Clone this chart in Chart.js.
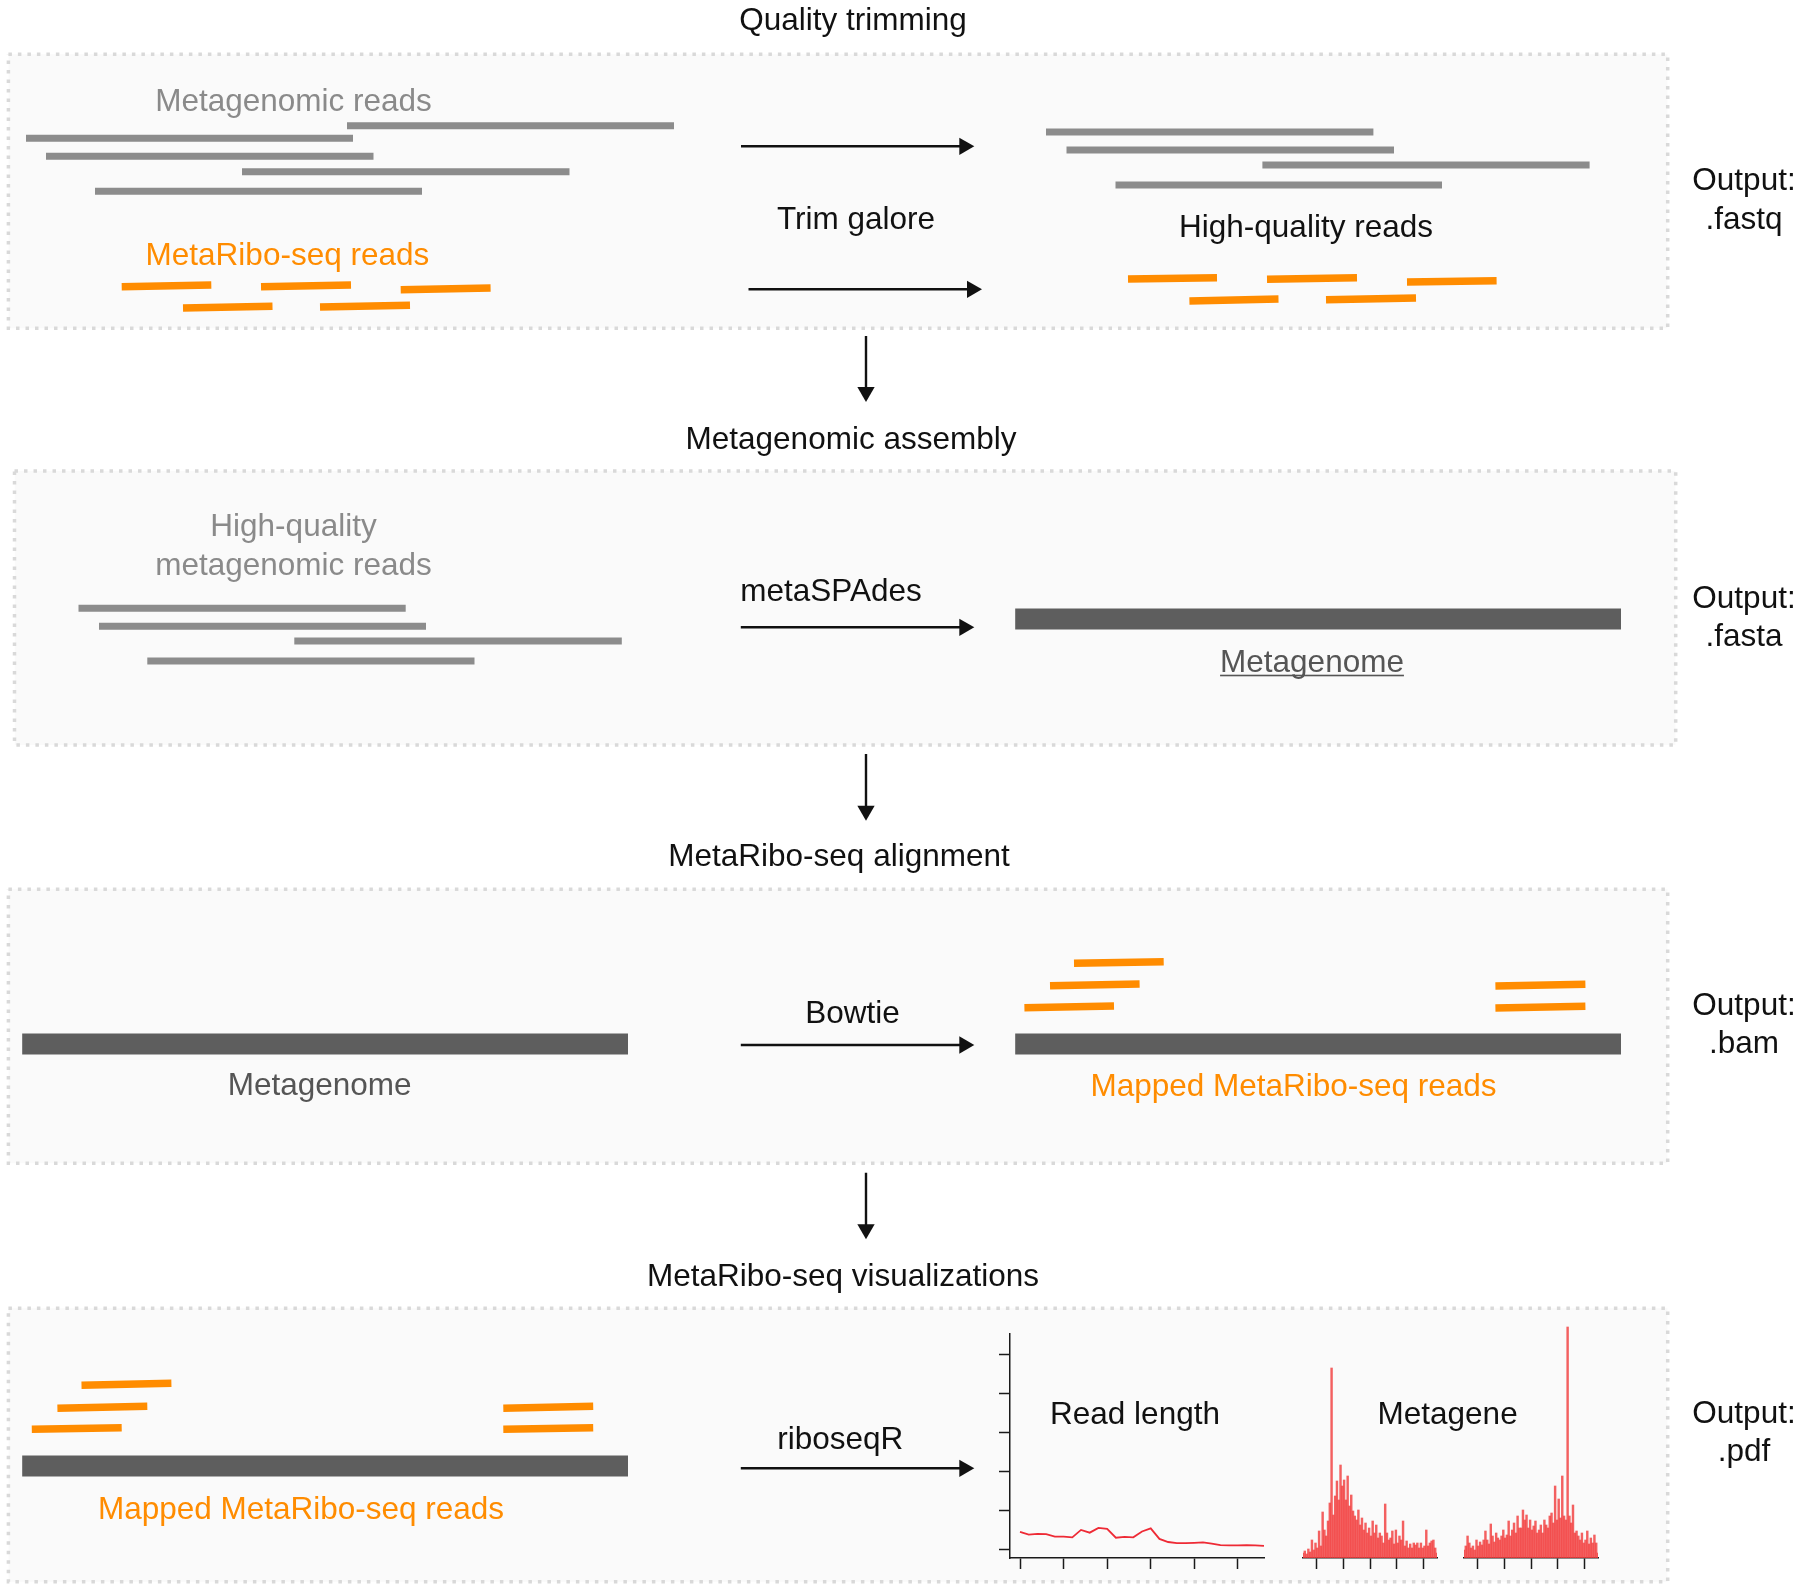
<!DOCTYPE html>
<html>
<head>
<meta charset="utf-8">
<script src="https://cdn.jsdelivr.net/npm/chart.js@4.4.1/dist/chart.umd.min.js"></script>
<style>
html,body{margin:0;padding:0;background:#ffffff;}
#wrap{position:relative;width:1800px;height:1591px;overflow:hidden;background:#ffffff;}
#wrap canvas{position:absolute;display:block;}
</style>
</head>
<body>
<div id="wrap">
  <canvas id="main" width="1800" height="1591" style="left:0px;top:0px;"></canvas>
  <canvas id="readLen" width="270" height="237" style="left:998px;top:1333px;"></canvas>
  <canvas id="meta5" width="140" height="250" style="left:1299.6px;top:1320px;"></canvas>
  <canvas id="meta3" width="140" height="250" style="left:1461px;top:1320px;"></canvas>
</div>
<script>
// ================= DATA =================
// Text content
const stepTitles    = ['Quality trimming', 'Metagenomic assembly', 'MetaRibo-seq alignment', 'MetaRibo-seq visualizations'];
const toolNames     = ['Trim galore', 'metaSPAdes', 'Bowtie', 'riboseqR'];
const outputLabel   = 'Output:';
const outputFormats = ['.fastq', '.fasta', '.bam', '.pdf'];
const readLabels    = ['Metagenomic reads', 'MetaRibo-seq reads', 'High-quality reads', 'High-quality', 'metagenomic reads',
                       'Metagenome', 'Mapped MetaRibo-seq reads', 'Read length', 'Metagene'];

// Reads, in diagram units: [start, end, track]  (orange reads: [start, end, trackStart, trackEnd])
const rawMetagenomicReads     = [[347,674,125.7],[26,353,138.3],[46,373.5,156.3],[242,569.5,171.7],[95,422,191.3]];
const rawRiboReads            = [[121.7,211.3,286.7,285],[261,351,286.7,285],[400.7,490.6,289.7,288],[183,272.5,308,306.3],[320,410,307,305.3]];
const trimmedMetagenomicReads = [[1046,1373.4,132],[1066.5,1394,150],[1262.4,1589.6,165],[1115.5,1442,185]];
const trimmedRiboReads        = [[1128,1217,279,277.7],[1267,1357,279.3,277.7],[1407,1496.6,282,280.7],[1189.4,1278.5,301,299],[1326,1416,299.7,298]];
const hqMetagenomicReads      = [[78.5,405.7,608.3],[99,426,626.3],[294.3,621.8,641],[147.3,474.5,661]];
const metagenomeContigs       = [[1015.2,1621,619],[22.2,628,1044],[1015.2,1621,1044],[22.2,628,1466]];
const mappedRiboReads         = [[1074,1163.7,963.3,961.7],[1050,1139.6,985.7,984],[1024.4,1114,1007.7,1006],
                                 [1495.4,1585.4,986,984.3],[1495.4,1585.4,1008,1006.3],
                                 [81.5,171.4,1385.3,1383.3],[57.4,147.3,1408.3,1406.3],[31.8,121.7,1429.3,1427.7],
                                 [503.3,593.2,1408.3,1406.3],[503.3,593.2,1429.3,1427.7]];

// Read length distribution (riboseqR)
const readLengths     = [20,21,22,23,24,25,26,27,28,29,30,31,32,33,34,35,36,37,38,39,40,41,42,43,44,45,46,47,48];
const readLengthFreq  = [0.44,0.37,0.39,0.38,0.32,0.32,0.30,0.49,0.42,0.54,0.52,0.29,0.31,0.30,0.45,0.53,0.26,0.18,0.15,0.15,0.16,0.17,0.14,0.10,0.095,0.095,0.10,0.095,0.08];
const readLengthTicksX = [20,25,30,35,40,45];
const readLengthTicksY = [0,1,2,3,4,5];

// Metagene profiles (around start and stop codons)
const metageneStart = [5,7,4,9,6,18,8,15,10,27,12,46,28,22,37,55,190,43,62,77,58,93,72,78,58,82,52,63,47,42,
                       38,48,33,40,28,35,25,30,22,37,25,33,20,25,22,15,54,25,18,20,27,14,28,15,22,18,37,12,17,10,
                       14,10,15,13,15,10,15,10,12,28,12,15,17,18,10,5];
const metageneStop  = [8,12,22,15,10,12,8,18,12,16,13,18,27,18,14,34,22,16,25,20,18,22,28,20,23,37,22,28,35,25,
                       42,30,30,48,38,43,30,38,28,32,37,25,28,33,25,38,33,30,42,45,35,72,38,59,40,82,42,38,231,42,
                       35,53,25,27,22,18,25,15,18,27,14,20,15,23,15,5];
const metageneTicks = [0,30,60,90,120,150];

// ================= LAYOUT / STYLE =================
const FONT = '31.5px "Liberation Sans", Arial, Helvetica, sans-serif';
const CAP_OFFSET = 12.1;
const INK = '#111111', GREY_TXT = '#8a8a8a', DARK_TXT = '#555555', ORANGE = '#ff8c00';
const GREY_READ = '#8c8c8c', CONTIG = '#5e5e5e', BOX_FILL = '#fafafa', BOX_LINE = '#d9d9d9';

const panels = [[8.4,54.3,1667.7,328.3],[14.5,471,1675.7,745],[8.4,889.3,1667.7,1163.3],[8.4,1308.3,1667.7,1581.7]];
const arrows = [[741,146.3,974.3,146.3],[748.5,289.3,982,289.3],[740.8,627.3,974.3,627.3],[740.8,1045,974.3,1045],
                [740.8,1468.3,974.3,1468.3],[866,336,866,402],[866,754,866,820.7],[866,1172.7,866,1239.3]];
const HEAD_R = 10;

const textLayout = [
  {t: stepTitles[0], x: 853, y: 18, c: INK},
  {t: stepTitles[1], x: 851, y: 437, c: INK},
  {t: stepTitles[2], x: 839, y: 854, c: INK},
  {t: stepTitles[3], x: 843, y: 1273.5, c: INK},
  {t: toolNames[0], x: 856, y: 217, c: INK},
  {t: toolNames[1], x: 831, y: 589, c: INK},
  {t: toolNames[2], x: 852.6, y: 1010.7, c: INK},
  {t: toolNames[3], x: 840.3, y: 1437, c: INK},
  {t: outputLabel, x: 1744, y: 178, c: INK}, {t: outputFormats[0], x: 1744, y: 216.7, c: INK},
  {t: outputLabel, x: 1744, y: 596, c: INK}, {t: outputFormats[1], x: 1744, y: 633.5, c: INK},
  {t: outputLabel, x: 1744, y: 1003.3, c: INK}, {t: outputFormats[2], x: 1744, y: 1040.5, c: INK},
  {t: outputLabel, x: 1744, y: 1410.5, c: INK}, {t: outputFormats[3], x: 1744, y: 1448.7, c: INK},
  {t: readLabels[0], x: 293.5, y: 98.5, c: GREY_TXT},
  {t: readLabels[1], x: 287.4, y: 252.5, c: ORANGE},
  {t: readLabels[2], x: 1306, y: 225, c: INK},
  {t: readLabels[3], x: 293.5, y: 524, c: GREY_TXT},
  {t: readLabels[4], x: 293.5, y: 563, c: GREY_TXT},
  {t: readLabels[5], x: 1312, y: 660, c: DARK_TXT, u: true},
  {t: readLabels[5], x: 319.6, y: 1083, c: DARK_TXT},
  {t: readLabels[6], x: 1293.5, y: 1083.7, c: ORANGE},
  {t: readLabels[6], x: 301, y: 1506.5, c: ORANGE},
  {t: readLabels[7], x: 1135, y: 1412, c: INK},
  {t: readLabels[8], x: 1447.6, y: 1412, c: INK}
];

// ================= BUILDERS =================
function flatSegs(list) {
  const d = [];
  list.forEach(r => {
    const y1 = r[2], y2 = (r.length > 3 ? r[3] : r[2]);
    d.push({x: r[0], y: y1}, {x: r[1], y: y2}, {x: r[1], y: null});
  });
  return d;
}
function boxOutline(list) {
  const d = [];
  list.forEach(([l,t,r,b]) => {
    d.push({x:l,y:t},{x:r,y:t},{x:r,y:b},{x:l,y:b},{x:l,y:t},{x:l,y:null});
  });
  return d;
}
function arrowShafts(list) {
  const d = [];
  list.forEach(([x1,y1,x2,y2]) => {
    const len = Math.hypot(x2-x1, y2-y1), ux = (x2-x1)/len, uy = (y2-y1)/len;
    d.push({x:x1,y:y1},{x:x2-ux*HEAD_R,y:y2-uy*HEAD_R},{x:x2,y:null});
  });
  return d;
}
function arrowHeads(list) {
  return list.map(([x1,y1,x2,y2]) => {
    const len = Math.hypot(x2-x1, y2-y1), ux = (x2-x1)/len, uy = (y2-y1)/len;
    return {x: x2-ux*HEAD_R, y: y2-uy*HEAD_R};
  });
}
const headRot = arrows.map(([x1,y1,x2,y2]) => Math.atan2(x2-x1, -(y2-y1)) * 180 / Math.PI);

const datasets = [];
panels.forEach(([l,t,r,b]) => {
  datasets.push({data:[{x:l,y:t},{x:r,y:t}], fill:{value:b}, backgroundColor:BOX_FILL, borderWidth:0, pointRadius:0, order:100});
});
datasets.push({data: boxOutline(panels), borderColor: BOX_LINE, borderWidth: 3.5, borderDash:[3.5,6], borderCapStyle:'butt', pointRadius:0, fill:false, order:90});
datasets.push({data: flatSegs(rawMetagenomicReads.concat(trimmedMetagenomicReads, hqMetagenomicReads)), borderColor: GREY_READ, borderWidth: 7, borderCapStyle:'butt', pointRadius:0, fill:false, order:50});
datasets.push({data: flatSegs(metagenomeContigs), borderColor: CONTIG, borderWidth: 21, borderCapStyle:'butt', pointRadius:0, fill:false, order:50});
datasets.push({data: flatSegs(rawRiboReads.concat(trimmedRiboReads, mappedRiboReads)), borderColor: ORANGE, borderWidth: 7.5, borderCapStyle:'butt', pointRadius:0, fill:false, order:40});
datasets.push({data: arrowShafts(arrows), borderColor: INK, borderWidth: 2.4, borderCapStyle:'butt', pointRadius:0, fill:false, order:30});
datasets.push({data: arrowHeads(arrows), showLine:false, pointStyle:'triangle', pointRadius:HEAD_R, pointRotation: headRot,
               pointBackgroundColor: INK, pointBorderColor: INK, pointBorderWidth: 0, order:20});

const textPlugin = {
  id: 'diagramText',
  afterDatasetsDraw(chart) {
    const {ctx, scales: {x, y}} = chart;
    ctx.save();
    ctx.font = FONT;
    ctx.textAlign = 'center';
    ctx.textBaseline = 'alphabetic';
    textLayout.forEach(item => {
      const px = x.getPixelForValue(item.x), py = y.getPixelForValue(item.y) + CAP_OFFSET;
      ctx.fillStyle = item.c;
      ctx.fillText(item.t, px, py);
      if (item.u) {
        const w = ctx.measureText(item.t).width;
        ctx.fillRect(px - w/2, py + 2.6, w, 1.6);
      }
    });
    ctx.restore();
  }
};

new Chart(document.getElementById('main'), {
  type: 'line',
  data: {datasets},
  options: {
    responsive: false, animation: false, devicePixelRatio: 1, events: [],
    layout: {padding: 0, autoPadding: false},
    plugins: {legend: {display:false}, tooltip: {enabled:false}},
    elements: {line: {tension: 0}},
    scales: {
      x: {type:'linear', min:0, max:1800, display:false},
      y: {type:'linear', min:0, max:1591, reverse:true, display:false}
    }
  },
  plugins: [textPlugin]
});

// ---- Mini plots ----
const AXIS = '#1a1a1a';
function axisOpts(extra) {
  return Object.assign({
    type: 'linear',
    border: {display: true, color: AXIS, width: 1.5},
    grid: {display: true, drawOnChartArea: false, drawTicks: true, tickLength: 11, tickColor: AXIS, tickWidth: 1.5, color: AXIS},
    ticks: {display: false}
  }, extra);
}

new Chart(document.getElementById('readLen'), {
  type: 'line',
  data: {datasets: [{data: readLengths.map((v,i) => ({x: v, y: readLengthFreq[i]})), borderColor: '#ee2a35', borderWidth: 1.8, pointRadius: 0, fill: false, clip: false}]},
  options: {
    responsive: false, animation: false, devicePixelRatio: 1, events: [],
    layout: {padding: {left:0, right:4, top:0, bottom:0}, autoPadding: false},
    plugins: {legend: {display:false}, tooltip: {enabled:false}},
    elements: {line: {tension: 0}},
    scales: {
      x: axisOpts({min: 18.85, max: 48, position:'bottom',
        afterBuildTicks: s => { s.ticks = readLengthTicksX.map(v => ({value: v})); },
        afterFit: s => { s.height = 12; }}),
      y: axisOpts({min: -0.23, max: 5.54, position:'left',
        afterBuildTicks: s => { s.ticks = readLengthTicksY.map(v => ({value: v})); },
        afterFit: s => { s.width = 12; }})
    }
  }
});

function metagene(id, values) {
  const positions = values.map((_, i) => i * 2);
  new Chart(document.getElementById(id), {
    type: 'bar',
    data: {datasets: [{data: positions.map((p,i) => ({x: p, y: values[i]})), backgroundColor: 'rgba(242,62,62,0.82)',
                       borderWidth: 0, barPercentage: 1, categoryPercentage: 1}]},
    options: {
      responsive: false, animation: false, devicePixelRatio: 1, events: [],
      layout: {padding: {left:3, right:3, top:0, bottom:0}, autoPadding: false},
      plugins: {legend: {display:false}, tooltip: {enabled:false}},
      scales: {
        x: axisOpts({min: 0, max: 150, offset: false, position:'bottom',
          afterBuildTicks: s => { s.ticks = metageneTicks.map(v => ({value: v})); },
          afterFit: s => { s.height = 12; }}),
        y: {type:'linear', min: 0, max: 238, display: false}
      }
    }
  });
}
metagene('meta5', metageneStart);
metagene('meta3', metageneStop);
</script>
</body>
</html>
